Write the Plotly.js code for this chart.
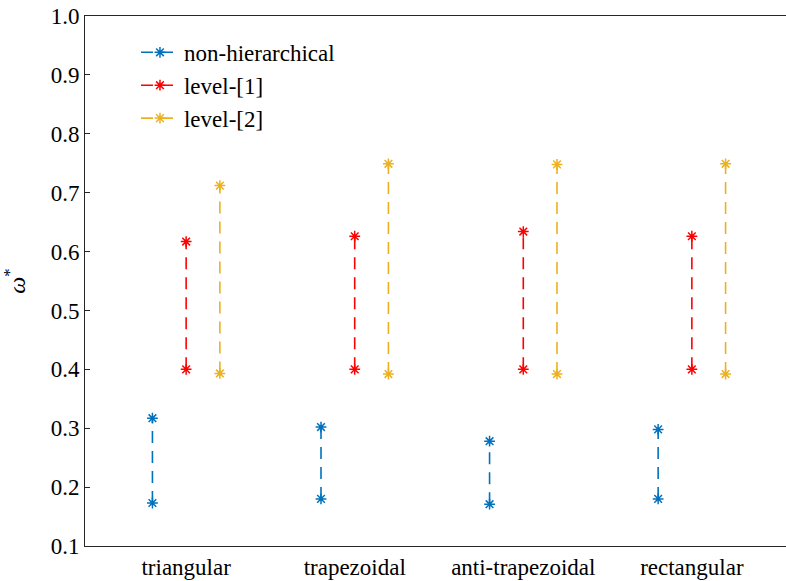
<!DOCTYPE html>
<html>
<head>
<meta charset="utf-8">
<script src="https://cdn.plot.ly/plotly-3.0.1.min.js"></script>
<style>
  html, body { margin: 0; padding: 0; background: #fff; overflow: hidden; }
  #chart { width: 800px; height: 581px; }
</style>
</head>
<body>
<div id="chart"></div>
<script>
// Profile shapes along the x axis
const categories = ['triangular', 'trapezoidal', 'anti-trapezoidal', 'rectangular'];

// ω* interval (lower / upper bound) for each scheme and profile
const nonHierLow  = [0.173, 0.180, 0.171, 0.180];
const nonHierHigh = [0.317, 0.302, 0.278, 0.298];
const level1Low   = [0.400, 0.400, 0.400, 0.400];
const level1High  = [0.617, 0.626, 0.634, 0.626];
const level2Low   = [0.393, 0.392, 0.392, 0.392];
const level2High  = [0.712, 0.749, 0.748, 0.749];

const yTickVals = [0.1, 0.2, 0.3, 0.4, 0.5, 0.6, 0.7, 0.8, 0.9, 1.0];

const FONT = '"Liberation Serif", "Times New Roman", Times, serif';

// One trace per scheme: a vertical dashed segment per profile, broken by nulls
function intervalTrace(name, low, high, offset, color) {
  const x = [], y = [];
  categories.forEach((c, i) => {
    x.push(i + 1 + offset, i + 1 + offset, null);
    y.push(low[i], high[i], null);
  });
  return {
    type: 'scatter',
    mode: 'lines+markers',
    name: name,
    x: x,
    y: y,
    connectgaps: false,
    line: { color: color, width: 1.6, dash: '12px,8px' },
    marker: { symbol: 'asterisk-open', size: 9, color: color, line: { color: color, width: 1.5 } },
    hoverinfo: 'x+y'
  };
}

const traces = [
  intervalTrace('non-hierarchical', nonHierLow, nonHierHigh, -0.2, '#0072BD'),
  intervalTrace('level-[1]', level1Low, level1High, 0, '#FF0000'),
  intervalTrace('level-[2]', level2Low, level2High, 0.2, '#EDB120')
];

const layout = {
  width: 800,
  height: 581,
  margin: { l: 85, r: 7, t: 16, b: 35 },
  paper_bgcolor: '#fff',
  plot_bgcolor: '#fff',
  font: { family: FONT, size: 23, color: '#000' },
  showlegend: true,
  legend: {
    x: 0.072, y: 0.972, xanchor: 'left', yanchor: 'top',
    bgcolor: 'rgba(255,255,255,0)',
    borderwidth: 0,
    font: { family: FONT, size: 23, color: '#000' },
    itemwidth: 38
  },
  xaxis: {
    range: [0.4, 4.6],
    tickvals: categories.map((c, i) => i + 1),
    ticktext: categories,
    ticks: '',
    showgrid: false,
    zeroline: false,
    showline: true,
    linecolor: '#262626',
    linewidth: 1,
    mirror: true,
    tickfont: { family: FONT, size: 23, color: '#000' }
  },
  yaxis: {
    range: [0.1, 1.0],
    tickvals: yTickVals,
    tickformat: '.1f',
    ticks: 'inside',
    ticklen: 5,
    tickcolor: '#262626',
    showgrid: false,
    zeroline: false,
    showline: true,
    linecolor: '#262626',
    linewidth: 1,
    mirror: 'ticks',
    tickfont: { family: FONT, size: 23, color: '#000' },
    title: { text: '<i>ω</i><sup>*</sup>', font: { family: FONT, size: 24, color: '#000' }, standoff: 18 }
  }
};

Plotly.newPlot('chart', traces, layout, { displayModeBar: false, staticPlot: true });
</script>
</body>
</html>
